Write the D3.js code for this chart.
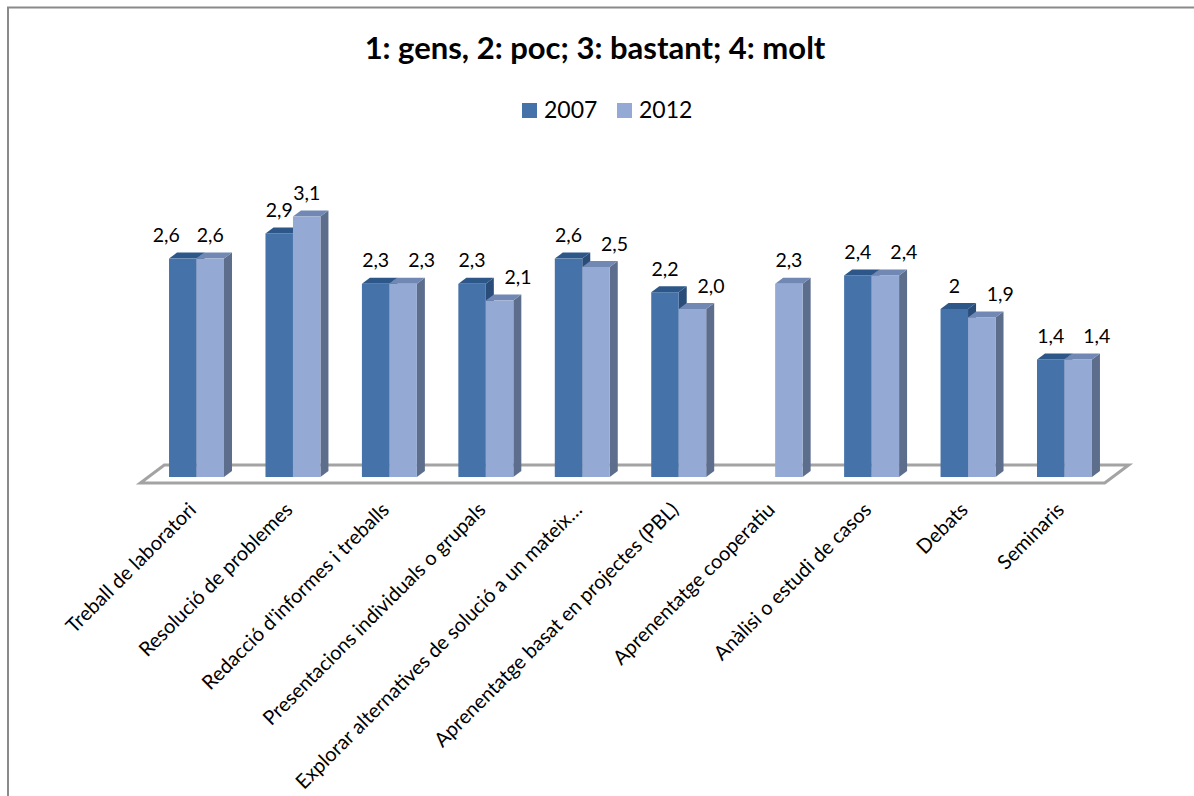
<!DOCTYPE html>
<html>
<head>
<meta charset="utf-8">
<script src="https://cdn.jsdelivr.net/npm/d3@7"></script>
<style>
  html, body { margin: 0; padding: 0; background: #fff; }
  svg { display: block; }
  text { font-family: Lato, "Open Sans", sans-serif; fill: #000; }
</style>
</head>
<body>
<svg id="chart" width="1194" height="796"></svg>
<script>
// Categories (teaching methods) and the two survey years
const categories = [
  "Treball de laboratori",
  "Resolució de problemes",
  "Redacció d'informes i treballs",
  "Presentacions individuals o grupals",
  "Explorar alternatives de solució a un mateix…",
  "Aprenentatge basat en projectes (PBL)",
  "Aprenentatge cooperatiu",
  "Anàlisi o estudi de casos",
  "Debats",
  "Seminaris"
];
const seriesNames = ["2007", "2012"];

// Mean ratings as printed on the bars (null = no answer that year)
const labels2007 = ["2,6", "2,9", "2,3", "2,3", "2,6", "2,2", null, "2,4", "2", "1,4"];
const labels2012 = ["2,6", "3,1", "2,3", "2,1", "2,5", "2,0", "2,3", "2,4", "1,9", "1,4"];

const titleText = "1: gens, 2: poc; 3: bastant; 4: molt";

const toNum = s => (s == null ? null : +s.replace(",", "."));
const values2007 = labels2007.map(toNum);
const values2012 = labels2012.map(toNum);

const series = [
  { name: "2007", values: values2007, labels: labels2007,
    front: "#4572a8", top: "#2d5789", side: "#2a4c78" },
  { name: "2012", values: values2012, labels: labels2012,
    front: "#94a9d3", top: "#7088b3", side: "#5d6d8c" }
];

const svg = d3.select("#chart");

// chart frame
svg.append("path")
  .attr("d", "M8,800 L8,7.5 L1200,7.5")
  .attr("fill", "none").attr("stroke", "#8a8a8a").attr("stroke-width", 2);

// Title
svg.append("text")
  .attr("x", 595).attr("y", 59)
  .attr("text-anchor", "middle")
  .style("font-size", "31px").style("font-weight", "bold")
  .text(titleText);

// Legend
const legend = svg.append("g").attr("transform", "translate(522,103)");
const legX = [0, 95];
series.forEach((s, i) => {
  const g = legend.append("g").attr("transform", `translate(${legX[i]},0)`);
  g.append("rect").attr("width", 15).attr("height", 15).attr("fill", s.front);
  g.append("text").attr("x", 22).attr("y", 15)
    .style("font-size", "23px").text(s.name);
});

// Scales
const baseY = 477;
const y = d3.scaleLinear().domain([0, 3.5]).range([baseY, baseY - 3.5 * 84]);
const x0 = d3.scaleBand().domain(categories).range([148.3, 1112.7]).paddingInner(0).paddingOuter(0);
const bw = x0.bandwidth();
const x1 = d3.scaleBand().domain(seriesNames).range([bw * 0.215, bw * 0.785]);
const barW = x1.bandwidth();

// depth offset of the 3D columns
const dX = 8, dY = -6;

// Floor
const fl = x0.range()[0] - 8, fr = x0.range()[1] - 8;
const floorFront = baseY + 6, floorBack = baseY - 12;
svg.append("path")
  .attr("d", `M${fl},${floorFront} L${fr},${floorFront} L${fr + 24},${floorBack} L${fl + 24},${floorBack} Z`)
  .attr("fill", "#fff").attr("stroke", "#a3a3a3").attr("stroke-width", 3)
  .attr("stroke-linejoin", "miter");

// Bars
const bars = svg.append("g");
categories.forEach((cat, ci) => {
  series.forEach(s => {
    const v = s.values[ci];
    if (v == null) return;
    const xl = x0(cat) + x1(s.name), xr = xl + barW;
    const yt = y(v), yb = y(0);
    const g = bars.append("g");
    g.append("path")
      .attr("d", `M${xr},${yt} L${xr + dX},${yt + dY} L${xr + dX},${yb + dY} L${xr},${yb} Z`)
      .attr("fill", s.side);
    g.append("path")
      .attr("d", `M${xl},${yt} L${xl + dX},${yt + dY} L${xr + dX},${yt + dY} L${xr},${yt} Z`)
      .attr("fill", s.top);
    g.append("rect")
      .attr("x", xl).attr("y", yt).attr("width", barW).attr("height", yb - yt)
      .attr("fill", s.front);
  });
});

// Value labels; the 2012 label moves right when it would collide with the 2007 one
const vl = svg.append("g").style("font-size", "19.5px").attr("text-anchor", "middle");
categories.forEach((cat, ci) => {
  const a = values2007[ci], b = values2012[ci];
  let ca = x0(cat) + x1("2007") + barW / 2;
  let cb = x0(cat) + x1("2012") + barW / 2;
  if (a != null && b != null && b <= a) {
    if (ci === 0) ca = cb - 44;
    else cb = Math.max(cb, ca + 46);
  }
  if (a != null) vl.append("text").attr("x", ca).attr("y", y(a) - 16.5).text(labels2007[ci]);
  if (b != null) vl.append("text").attr("x", cb).attr("y", y(b) - 16.5).text(labels2012[ci]);
});

// Category labels, rotated
const xl = svg.append("g").style("font-size", "20px").attr("text-anchor", "end");
categories.forEach(cat => {
  const cx = x0(cat) + bw / 2;
  xl.append("text")
    .attr("transform", `translate(${cx + 1},511) rotate(-45)`)
    .text(cat);
});
</script>
</body>
</html>
